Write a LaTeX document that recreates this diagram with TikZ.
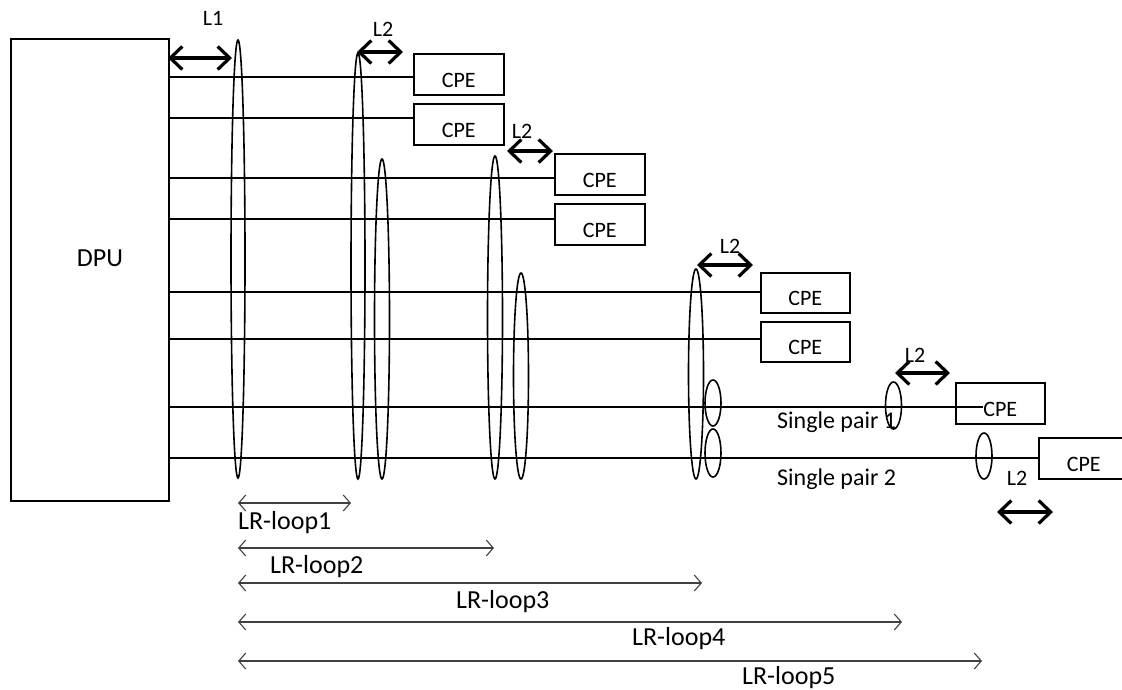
\documentclass[tikz,border=0pt]{standalone}
\usepackage{fontspec}
\setmainfont{Carlito}
\usetikzlibrary{arrows.meta}
\begin{document}
\begin{tikzpicture}[x=1pt,y=-1pt,
  wire/.style={line width=1.5pt},
  ring/.style={line width=1.6pt},
  cpebox/.style={draw, line width=1.5pt, minimum width=90pt, minimum height=41pt,
    inner sep=0pt, text height=34pt, text depth=7pt,
    font=\fontsize{22}{26}\selectfont, anchor=north west},
  lenarrow/.style={line width=3.2pt,
    {Straight Barb[length=12pt,width=23pt]}-{Straight Barb[length=12pt,width=23pt]}},
  looparrow/.style={line width=1.1pt, draw=black!75,
    {Straight Barb[length=7pt,width=16pt]}-{Straight Barb[length=7pt,width=16pt]}},
  lbl/.style={font=\fontsize{22}{26}\selectfont, anchor=base, inner sep=0pt},
  looplbl/.style={font=\fontsize{26}{30}\selectfont, anchor=base west, inner sep=0pt},
  pairlbl/.style={font=\fontsize{24}{28}\selectfont, anchor=base west, inner sep=0pt}]
\useasboundingbox (0,0) rectangle (1122,689);

% DPU
\node[draw, line width=1.5pt, minimum width=158pt, minimum height=462pt, anchor=north west, inner sep=0pt] (dpu) at (10,38) {};
\node[font=\fontsize{26}{30}\selectfont, anchor=base, inner sep=0pt] (dputext) at (100,266) {DPU};

% CPE boxes
\node[cpebox] (c1) at (413,53) {CPE};
\node[cpebox] (c2) at (413,103) {CPE};
\node[cpebox] (c3) at (554,153) {CPE};
\node[cpebox] (c4) at (554,203) {CPE};
\node[cpebox, minimum width=89pt, minimum height=40pt, text height=33pt] (c5) at (760,272) {CPE};
\node[cpebox, minimum width=89pt, minimum height=40pt, text height=33pt] (c6) at (760,321) {CPE};
\node[cpebox, minimum width=89pt] (c7) at (955,382) {CPE};
\node[cpebox] (c8) at (1038,437) {CPE};

% wires
\coordinate (w7end) at (983,407);
\draw[wire] (dpu.east |- 0,77) -- (c1.west |- 0,77);
\draw[wire] (dpu.east |- 0,118) -- (c2.west |- 0,118);
\draw[wire] (dpu.east |- 0,178) -- (c3.west |- 0,178);
\draw[wire] (dpu.east |- 0,219) -- (c4.west |- 0,219);
\draw[wire] (dpu.east |- 0,292) -- (c5.west |- 0,292);
\draw[wire] (dpu.east |- 0,339) -- (c6.west |- 0,339);
\draw[wire] (dpu.east |- 0,407) -- (w7end);
\draw[wire] (dpu.east |- 0,458) -- (c8.west |- 0,458);

% bundle rings
\draw[ring] (238,259) ellipse [x radius=7pt, y radius=219pt];
\draw[ring] (358,266) ellipse [x radius=7pt, y radius=213pt];
\draw[ring] (382,319) ellipse [x radius=7.5pt, y radius=160pt];
\draw[ring] (495,317.5) ellipse [x radius=7.5pt, y radius=161.5pt];
\draw[ring] (521,376) ellipse [x radius=7.5pt, y radius=103pt];
\draw[ring] (696,374) ellipse [x radius=7.5pt, y radius=105pt];
\draw[ring] (713,403) ellipse [x radius=8pt, y radius=23pt];
\draw[ring] (713,453) ellipse [x radius=8pt, y radius=24pt];
\draw[ring] (893.5,405.5) ellipse [x radius=8pt, y radius=23.5pt];
\draw[ring] (984,456) ellipse [x radius=8pt, y radius=23pt];

% L1 / L2 arrows
\coordinate (l1a) at (168,58); \coordinate (l1b) at (232,58);
\draw[lenarrow] (l1a) -- (l1b);
\node[lbl] (l1) at (213,25) {L1};

\coordinate (a1a) at (357,52); \coordinate (a1b) at (403,52);
\draw[lenarrow] (a1a) -- (a1b);
\node[lbl] (l2a) at (383,36) {L2};

\coordinate (a2a) at (507,151); \coordinate (a2b) at (553,151);
\draw[lenarrow] (a2a) -- (a2b);
\node[lbl] (l2b) at (522,138) {L2};

\coordinate (a3a) at (697,265); \coordinate (a3b) at (753,265);
\draw[lenarrow] (a3a) -- (a3b);
\node[lbl] (l2c) at (730,253) {L2};

\coordinate (a4a) at (895,373); \coordinate (a4b) at (950,373);
\draw[lenarrow] (a4a) -- (a4b);
\node[lbl] (l2d) at (915,362) {L2};

\coordinate (a5a) at (997,512); \coordinate (a5b) at (1053,512);
\draw[lenarrow] (a5a) -- (a5b);
\node[lbl] (l2e) at (1017,485) {L2};

% single pair labels
\node[pairlbl] (sp1) at (777,428) {Single pair 1};
\node[pairlbl] (sp2) at (777,485) {Single pair 2};

% LR loops
\coordinate (r1a) at (238,503); \coordinate (r1b) at (351,503);
\draw[looparrow] (r1a) -- (r1b);
\node[looplbl] (lr1) at (238,529) {LR-loop1};

\coordinate (r2a) at (238,548); \coordinate (r2b) at (494,548);
\draw[looparrow] (r2a) -- (r2b);
\node[looplbl] (lr2) at (270,573) {LR-loop2};

\coordinate (r3a) at (238,583); \coordinate (r3b) at (702,583);
\draw[looparrow] (r3a) -- (r3b);
\node[looplbl] (lr3) at (456,608) {LR-loop3};

\coordinate (r4a) at (238,622); \coordinate (r4b) at (902,622);
\draw[looparrow] (r4a) -- (r4b);
\node[looplbl] (lr4) at (632,645) {LR-loop4};

\coordinate (r5a) at (238,661); \coordinate (r5b) at (982,661);
\draw[looparrow] (r5a) -- (r5b);
\node[looplbl] (lr5) at (742,684) {LR-loop5};
\end{tikzpicture}
\end{document}
